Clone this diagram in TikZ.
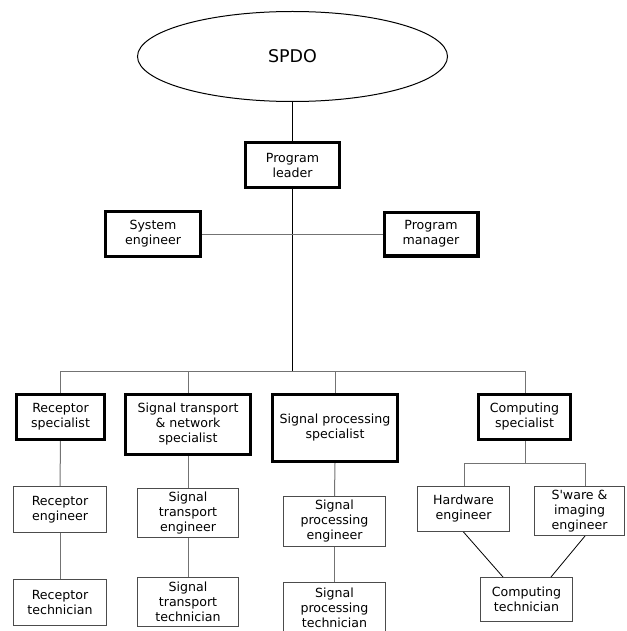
\documentclass[tikz,border=0pt]{standalone}
\usepackage{fontspec}
\setmainfont{DejaVu Sans}
\newfontfamily\plainfont{DejaVu Sans}
\usetikzlibrary{shapes.geometric,calc}
\definecolor{linegray}{gray}{0.45}
\definecolor{boxgray}{gray}{0.3}
\tikzset{
  base/.style={align=center, inner sep=0pt, font=\fontsize{12.6}{15}\selectfont},
  thickbox/.style={base, draw=black, line width=3.4pt},
  thinbox/.style={base, draw=boxgray, line width=1pt},
  conn/.style={draw=linegray, line width=1pt},
  mainconn/.style={draw=black, line width=1pt}
}
\begin{document}
\begin{tikzpicture}[x=1pt,y=-1pt]
\useasboundingbox (0,0) rectangle (626,631);
% top
\node[ellipse, draw=black, line width=1pt, minimum width=310pt, minimum height=90pt, inner sep=0pt,
      font=\fontsize{17.5}{20}\selectfont] (spdo) at (292.5,56.5) {SPDO};
\node[thickbox, minimum width=93.6pt, minimum height=44.6pt] (pl) at (292.5,165) {Program\\leader};
\node[thickbox, minimum width=94.6pt, minimum height=44.6pt] (se) at (153,234) {System\\engineer};
\node[thickbox, minimum width=93.6pt, minimum height=43.6pt] (pm) at (431,234) {Program\\manager};
% specialists
\node[thickbox, minimum width=87.6pt, minimum height=44.6pt] (rs) at (60.5,417) {Receptor\\specialist};
\node[thickbox, minimum width=124.6pt, minimum height=59.6pt] (stn) at (188,424.5) {Signal transport\\\&\ network\\specialist};
\node[thickbox, minimum width=124.6pt, minimum height=66.6pt] (sps) at (335,428) {Signal processing\\specialist};
\node[thickbox, minimum width=91.6pt, minimum height=44.6pt] (cs) at (524.5,417) {Computing\\specialist};
% engineers
\node[thinbox, minimum width=93pt, minimum height=46pt] (re) at (60,509.5) {Receptor\\engineer};
\node[thinbox, minimum width=93pt, minimum height=46pt] (rt) at (60,602.5) {Receptor\\technician};
\node[thinbox, minimum width=101pt, minimum height=49pt] (ste) at (188,513) {Signal\\transport\\engineer};
\node[thinbox, minimum width=101pt, minimum height=49pt] (stt) at (188,602) {Signal\\transport\\technician};
\node[thinbox, minimum width=102pt, minimum height=50pt] (spe) at (334.5,521.5) {Signal\\processing\\engineer};
\node[thinbox, minimum width=102pt, minimum height=50pt] (spt) at (334.5,607.5) {Signal\\processing\\technician};
\node[thinbox, minimum width=92pt, minimum height=45pt] (he) at (463.5,509) {Hardware\\engineer};
\node[thinbox, minimum width=90pt, minimum height=49pt] (sie) at (579.5,511) {{\plainfont S'ware \&}\\imaging\\engineer};
\node[thinbox, minimum width=92pt, minimum height=44pt] (ct) at (526.5,599.5) {Computing\\technician};
% bus coordinates
\coordinate (bus) at (292.5,371);
\coordinate (busL) at (60.5,371);
\coordinate (busR) at (525,371);
\coordinate (cbus) at (525,463);
\coordinate (cbusL) at (464,463);
\coordinate (cbusR) at (585.5,463);
% connectors
\draw[mainconn] (spdo.south) -- (pl.north);
\draw[mainconn] (pl.south) -- (bus);
\draw[conn] (se.east) -- (pm.west);
\draw[conn] (busL) -- (busR);
\draw[conn] (busL) -- (rs.north);
\draw[conn] (stn.north |- bus) -- (stn.north);
\draw[conn] (sps.north |- bus) -- (sps.north);
\draw[conn] (busR) -- (cs.north -| busR);
\draw[conn] (rs.south) -- (re.north);
\draw[conn] (re.south) -- (rt.north);
\draw[conn] (stn.south) -- (ste.north);
\draw[conn] (ste.south) -- (stt.north);
\draw[conn] (sps.south) -- (spe.north);
\draw[conn] (spe.south) -- (spt.north);
\draw[conn] (cs.south -| cbus) -- (cbus);
\draw[conn] (cbusL) -- (cbusR);
\draw[conn] (cbusL) -- (he.north -| cbusL);
\draw[conn] (cbusR) -- (sie.north -| cbusR);
\draw[black, line width=0.8pt] (he.south) -- ($(ct.north)+(-23.5,0)$);
\draw[black, line width=0.8pt] ($(sie.south)+(5.5,0)$) -- ($(ct.north)+(24.5,0)$);
\end{tikzpicture}
\end{document}
